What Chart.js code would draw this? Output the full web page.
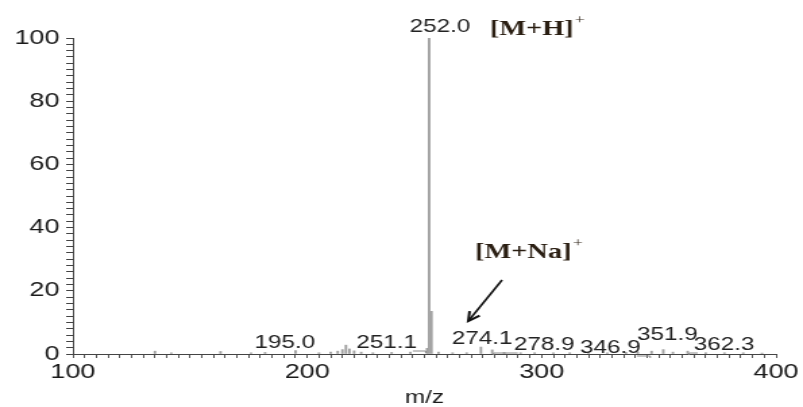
<!DOCTYPE html>
<html>
<head>
<meta charset="utf-8">
<script src="https://cdn.jsdelivr.net/npm/chart.js@4"></script>
<style>
  html, body { margin: 0; padding: 0; background: #fff; overflow: hidden; }
  #wrap { width: 595px; height: 407px; transform: scaleX(1.3496); transform-origin: 0 0; }
  canvas { display: block; }
</style>
</head>
<body>
<div id="wrap"><canvas id="c" width="595" height="407"></canvas></div>
<script>
// ESI mass spectrum: m/z values and relative abundance (%)
const peakMz = [135, 142, 163, 176, 182, 195.0, 205, 210, 213, 215, 216.5, 218, 220, 223, 228, 236, 244,
                251.1, 252.0, 253.0, 256, 262, 268, 274.1, 278.9, 284, 291, 297, 305, 312, 320, 328,
                336, 341, 346.9, 351.9, 356, 362.3, 370, 378, 386, 394];
const peakIntensity = [0.9, 0.4, 0.8, 0.4, 0.5, 1.1, 0.4, 0.6, 0.9, 1.4, 2.8, 1.6, 1.0, 0.6, 0.4, 0.5, 0.6,
                       1.8, 100, 13.5, 0.6, 0.4, 0.4, 2.2, 1.3, 0.5, 0.4, 0.4, 0.4, 0.4, 0.4, 0.4,
                       0.5, 0.6, 0.9, 1.4, 0.6, 0.9, 0.4, 0.4, 0.4, 0.3];

// Peaks annotated with their m/z
const labelledMz = [252.0, 195.0, 251.1, 274.1, 278.9, 346.9, 351.9, 362.3];

// Axis ranges and labelled ticks
const xRange = [100, 400];
const yRange = [0, 100];
const xLabelTicks = [100, 200, 300, 400];
const yLabelTicks = [0, 20, 40, 60, 80, 100];

// Label placement relative to each peak (pixels)
const labelPlacement = {
  '252.0': { dx: 8, y: 27 },
  '195.0': { dx: -8, y: 343 },
  '251.1': { dx: -30, y: 343, lead: 'right' },
  '274.1': { dx: 1, y: 339 },
  '278.9': { dx: 38.5, y: 345, lead: 'left' },
  '346.9': { dx: -30.5, y: 348, lead: 'right' },
  '351.9': { dx: 3, y: 335 },
  '362.3': { dx: 27, y: 345, lead: 'left' }
};

const annotations = {
  id: 'spectrumAnnotations',
  afterDatasetsDraw(chart) {
    const { ctx, scales: { x } } = chart;
    ctx.save();

    // m/z labels
    ctx.font = '18px "Liberation Sans", Arial, sans-serif';
    ctx.textAlign = 'center';
    ctx.textBaseline = 'middle';
    labelledMz.forEach(m => {
      const txt = m.toFixed(1);
      const p = labelPlacement[txt];
      const px = x.getPixelForValue(m);
      const lx = px + p.dx;
      const w = ctx.measureText(txt).width;
      ctx.fillStyle = '#222';
      ctx.fillText(txt, lx, p.y);
      if (p.lead) {
        ctx.strokeStyle = '#8a8a8a';
        ctx.lineWidth = 1;
        ctx.beginPath();
        const ly = p.y + 8;
        if (p.lead === 'right') {
          ctx.moveTo(lx + w / 2 - 3, ly);
          ctx.lineTo(px - 1, ly);
          ctx.lineTo(px - 1, ly + 2);
        } else {
          ctx.moveTo(px + 1, ly + 2);
          ctx.lineTo(px + 1, ly);
          ctx.lineTo(lx - w / 2 + 3, ly);
        }
        ctx.stroke();
      }
    });

    // ion annotations
    const ion = (base, sup, left, y) => {
      ctx.font = 'bold 21px "Liberation Serif", "Times New Roman", serif';
      ctx.textAlign = 'left';
      ctx.fillStyle = '#2a1e12';
      ctx.fillText(base, left, y);
      const w = ctx.measureText(base).width;
      ctx.font = '13px "Liberation Serif", "Times New Roman", serif';
      ctx.fillText(sup, left + w + 1, y - 9);
    };
    ion('[M+H]', '+', 363, 30);
    ion('[M+Na]', '+', 352, 253);

    // arrow pointing at the sodium adduct
    const x0 = 372, y0 = 280, x1 = 347, y1 = 321;
    ctx.strokeStyle = '#111';
    ctx.lineWidth = 1.6;
    ctx.beginPath();
    ctx.moveTo(x0, y0);
    ctx.lineTo(x1, y1);
    ctx.stroke();
    const ang = Math.atan2(y1 - y0, x1 - x0);
    const hl = 10;
    ctx.lineWidth = 2;
    ctx.beginPath();
    ctx.moveTo(x1 - hl * Math.cos(ang - 0.45), y1 - hl * Math.sin(ang - 0.45));
    ctx.lineTo(x1, y1);
    ctx.lineTo(x1 - hl * Math.cos(ang + 0.45), y1 - hl * Math.sin(ang + 0.45));
    ctx.stroke();

    ctx.restore();
  }
};

new Chart(document.getElementById('c'), {
  type: 'bar',
  data: {
    datasets: [{
      data: peakMz.map((m, i) => ({ x: m, y: peakIntensity[i] })),
      backgroundColor: '#a0a0a0',
      borderWidth: 0,
      barThickness: 1.2
    }]
  },
  options: {
    responsive: false,
    animation: false,
    layout: { padding: { left: 0, right: 20, top: 38, bottom: 0 } },
    plugins: { legend: { display: false }, tooltip: { enabled: false } },
    scales: {
      x: {
        type: 'linear',
        min: xRange[0],
        max: xRange[1],
        offset: false,
        grid: { display: true, drawOnChartArea: false, drawTicks: true, tickLength: 4, color: '#555', offset: false },
        border: { display: true, color: '#444', width: 1 },
        ticks: {
          stepSize: 5,
          autoSkip: false,
          maxRotation: 0,
          padding: 2,
          color: '#1a1a1a',
          font: { family: '"Liberation Sans", Arial, sans-serif', size: 20 },
          callback: v => xLabelTicks.includes(v) ? String(v) : ''
        },
        title: {
          display: true,
          text: 'm/z',
          color: '#1a1a1a',
          font: { family: '"Liberation Sans", Arial, sans-serif', size: 18, lineHeight: 1 },
          padding: { top: 0, bottom: 0 }
        },
        afterFit: s => { s.height = 53; }
      },
      y: {
        min: yRange[0],
        max: yRange[1],
        grid: { display: true, drawOnChartArea: false, drawTicks: true, tickLength: 5, color: '#444' },
        border: { display: true, color: '#444', width: 1 },
        ticks: {
          stepSize: 2,
          autoSkip: false,
          padding: 5,
          color: '#1a1a1a',
          font: { family: '"Liberation Sans", Arial, sans-serif', size: 20 },
          callback: v => yLabelTicks.includes(v) ? String(v) : ''
        },
        afterFit: s => { s.width = 54; }
      }
    }
  },
  plugins: [annotations]
});
</script>
</body>
</html>
